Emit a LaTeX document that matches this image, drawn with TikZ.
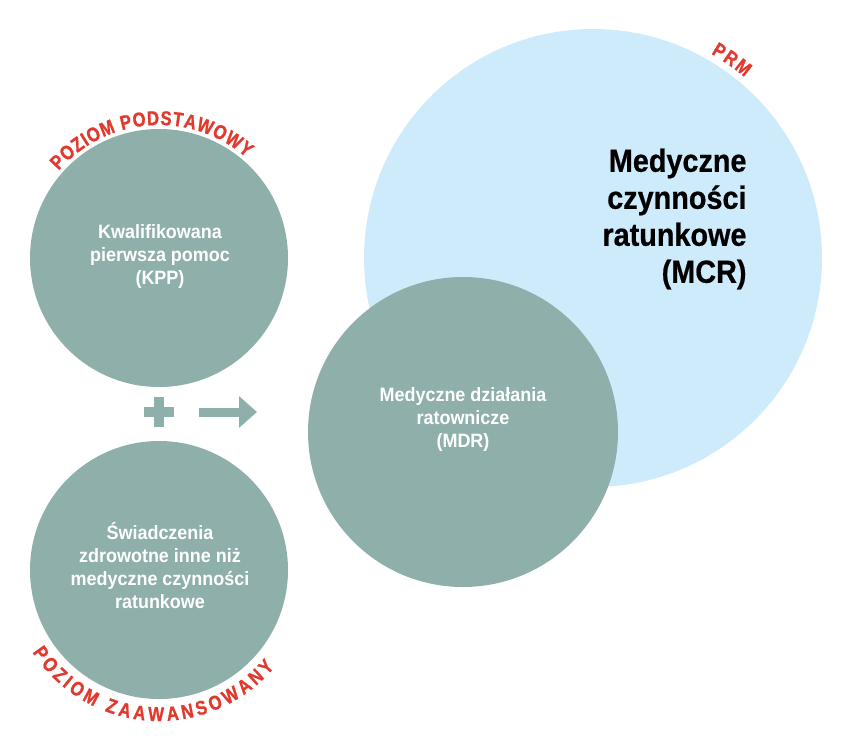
\documentclass[tikz,border=0pt]{standalone}
\usepackage{fontspec}
\setmainfont{Liberation Sans}[FakeStretch=0.93]
\newfontfamily\arcfont{Liberation Sans}[FakeStretch=0.84,FakeBold=1]
\newfontfamily\mcrfont{Liberation Sans}[FakeStretch=0.9,FakeBold=0.6]
\usetikzlibrary{arrows.meta,decorations.text}

\definecolor{kppgray}{RGB}{143,175,170}
\definecolor{mcrblue}{RGB}{205,235,250}
\definecolor{prmred}{RGB}{225,57,45}

\tikzset{every picture/.style={line width=0.75pt}}
\tikzset{
  whitetext/.style={align=center, text=white, inner sep=0.75pt, font=\fontsize{14.5}{17.25}\selectfont\bfseries},
  mcrtext/.style={align=right, text=black, inner sep=0pt, font=\mcrfont\fontsize{24}{27.75}\selectfont\bfseries},
  arclabel/.style={decorate, decoration={text along path, text align={fit to path}, text color=prmred,
      text={|\arcfont\fontsize{15}{17}\selectfont\bfseries|#1}}}
}

\begin{document}
\begin{tikzpicture}[x=0.75pt,y=0.75pt,yscale=-1,xscale=1]
\useasboundingbox (0,0) rectangle (846,754);

%Shape: Circle PRM
\fill [mcrblue] (593,258) circle [radius=229];
%Shape: Circle KPP
\fill [kppgray] (159,258) circle [radius=129];
%Shape: Circle inne
\fill [kppgray] (159,570) circle [radius=129];
%Shape: Circle MDR
\fill [kppgray] (463,432) circle [radius=155];

%Plus and arrow
\coordinate (plusL) at (144,412);
\coordinate (plusR) at (174,412);
\coordinate (plusT) at (159,397);
\coordinate (plusB) at (159,427);
\draw [kppgray, line width=7.5pt] (plusL) -- (plusR) (plusT) -- (plusB);
\coordinate (arrowA) at (199,412);
\coordinate (arrowB) at (257,412);
\draw [kppgray, line width=6.75pt, -{Triangle[length=13.5pt,width=23pt]}] (arrowA) -- (arrowB);

% Text Node
\node [whitetext] (kpp) at (160,256) {Kwalifikowana\\pierwsza pomoc\\(KPP)};
\node [whitetext] (inne) at (160,566) {Świadczenia\\zdrowotne inne niż\\medyczne czynności\\ratunkowe};
\node [whitetext] (mdr) at (463,419) {Medyczne działania\\ratownicze\\(MDR)};
\node [mcrtext, anchor=east] (mcr) at (747,219) {Medyczne\\czynności\\ratunkowe\\(MCR)};

%Curved labels
\path [arclabel={POZIOM PODSTAWOWY}] ([shift={(221:133)}]159,258) arc [start angle=221, end angle=311, radius=133];
\path [arclabel={POZIOM ZAAWANSOWANY}] ([shift={(147:151)}]159,570) arc [start angle=147, end angle=40, radius=151];
\path [arclabel={PRM}] ([shift={(300:236)}]593,258) arc [start angle=300, end angle=310, radius=236];

\end{tikzpicture}
\end{document}
